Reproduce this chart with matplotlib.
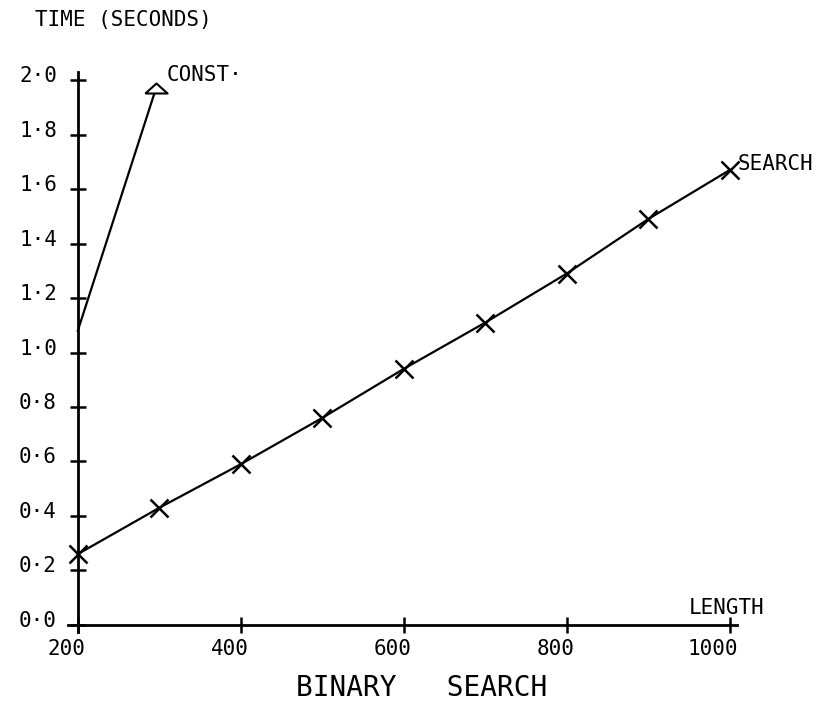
import matplotlib

matplotlib.use("Agg")
import matplotlib.pyplot as plt
from matplotlib.transforms import ScaledTranslation

# timings, seconds
length = [200, 300, 400, 500, 600, 700, 800, 900, 1000]
search_time = [0.26, 0.43, 0.59, 0.76, 0.94, 1.11, 1.29, 1.49, 1.67]
const_length = [200, 296]
const_time = [1.08, 1.97]

x_ticks = [200, 400, 600, 800, 1000]
y_ticks = [0.0, 0.2, 0.4, 0.6, 0.8, 1.0, 1.2, 1.4, 1.6, 1.8, 2.0]
y_tick_labels = [f"{v:.1f}".replace(".", "·") for v in y_ticks]

plt.rcParams.update(
    {
        "font.family": "DejaVu Sans Mono",
        "font.size": 15,
    }
)

W, H, DPI = 830, 706, 100
fig = plt.figure(figsize=(W / DPI, H / DPI), dpi=DPI)
# axes box in pixels: x 68..737, y (from top) 72..632
ax = fig.add_axes([68 / W, 1 - 632 / H, 669 / W, 560 / H])
ax.set_xlim(188, 1009)
ax.set_ylim(-0.026, 2.03)

for side in ["top", "right"]:
    ax.spines[side].set_visible(False)
ax.spines["left"].set_position(("data", 200))
ax.spines["bottom"].set_position(("data", 0))
for side in ["left", "bottom"]:
    ax.spines[side].set_linewidth(2.0)

ax.set_xticks(x_ticks)
ax.set_xticklabels([str(v) for v in x_ticks])
ax.set_yticks(y_ticks)
ax.set_yticklabels(y_tick_labels)
ax.tick_params(direction="inout", length=12, width=1.8, color="black")
ax.tick_params(axis="x", pad=4)
ax.tick_params(axis="y", pad=9)

# labels sit right-aligned just past the x ticks and a little above the y ticks
for lab in ax.get_xticklabels():
    lab.set_horizontalalignment("right")
    lab.set_transform(lab.get_transform() + ScaledTranslation(8 / DPI, 0, fig.dpi_scale_trans))
for lab in ax.get_yticklabels():
    lab.set_transform(lab.get_transform() + ScaledTranslation(0, 6 / DPI, fig.dpi_scale_trans))

# flat plotter-style triangle
flat_triangle = [(-1.0, -0.45), (1.0, -0.45), (0.0, 0.45), (-1.0, -0.45)]

ax.plot(length, search_time, color="black", linewidth=1.6, marker="x",
        markersize=13, markeredgewidth=1.8, clip_on=False)
ax.plot(const_length, const_time, color="black", linewidth=1.6, marker=flat_triangle,
        markevery=[1], markersize=16, markeredgewidth=1.5, markerfacecolor="white",
        clip_on=False)

ax.annotate("SEARCH", (length[-1], search_time[-1]), xytext=(8, 6),
            textcoords="offset pixels", ha="left", va="center")
ax.annotate("CONST·", (const_length[-1], const_time[-1]), xytext=(11, 13),
            textcoords="offset pixels", ha="left", va="center")
ax.annotate("LENGTH", (x_ticks[-1], 0), xytext=(-41, 17),
            textcoords="offset pixels", ha="left", va="center")

fig.text(35 / W, 1 - 20 / H, "TIME (SECONDS)", ha="left", va="center")
fig.text(422 / W, 1 - 688 / H, "BINARY   SEARCH", ha="center", va="center", fontsize=20)

fig.savefig("out.png", dpi=DPI)
